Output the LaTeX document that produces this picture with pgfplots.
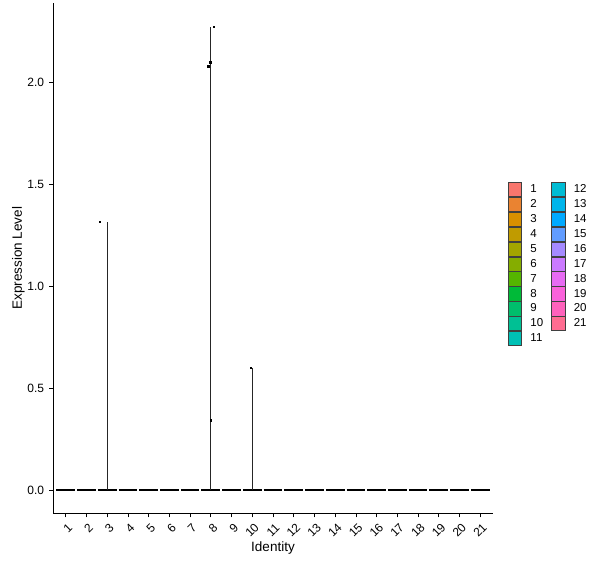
\documentclass[border=0pt]{standalone}
\usepackage{pgfplots}
\pgfplotsset{compat=1.18}
\usepackage{fontspec}
\setmainfont{Liberation Sans}
\definecolor{c1}{HTML}{F8766D}
\definecolor{c2}{HTML}{EA8331}
\definecolor{c3}{HTML}{D89000}
\definecolor{c4}{HTML}{C09B00}
\definecolor{c5}{HTML}{A3A500}
\definecolor{c6}{HTML}{85AD00}
\definecolor{c7}{HTML}{55B500}
\definecolor{c8}{HTML}{00BA38}
\definecolor{c9}{HTML}{00BE6C}
\definecolor{c10}{HTML}{00C094}
\definecolor{c11}{HTML}{00C0B5}
\definecolor{c12}{HTML}{00BCD4}
\definecolor{c13}{HTML}{00B5EB}
\definecolor{c14}{HTML}{00A9FF}
\definecolor{c15}{HTML}{619CFF}
\definecolor{c16}{HTML}{A58AFF}
\definecolor{c17}{HTML}{CB7AFF}
\definecolor{c18}{HTML}{E76BF3}
\definecolor{c19}{HTML}{FA62DB}
\definecolor{c20}{HTML}{FF62BC}
\definecolor{c21}{HTML}{FF6C91}
\begin{document}
\begin{tikzpicture}[x=1pt,y=1pt]
\path[use as bounding box] (0,0) rectangle (600,568);
\begin{axis}[
  at={(53.3pt,54.7pt)}, anchor=south west,
  scale only axis, width=439.4pt, height=510pt,
  xmin=0.4, xmax=21.6, ymin=-0.1138, ymax=2.389,
  axis x line*=bottom, axis y line*=left,
  axis line style={black, line width=0.8pt},
  tick style={black, line width=0.8pt},
  tick align=outside, major tick length=4pt,
  xtick={1,2,3,4,5,6,7,8,9,10,11,12,13,14,15,16,17,18,19,20,21},
  ytick={0,0.5,1,1.5,2},
  /pgf/number format/assume math mode=true,
  yticklabel={\pgfmathprintnumber[fixed,fixed zerofill,precision=1]{\tick}},
  xticklabel style={yshift=-5pt, xshift=1.5pt, rotate=45, anchor=north east, inner sep=0pt, font=\fontsize{12}{14}\selectfont},
  yticklabel style={inner sep=0pt, font=\fontsize{12}{14}\selectfont, xshift=-5pt},
  xlabel={Identity}, ylabel={Expression Level},
  every axis x label/.style={at={(axis description cs:0.5,0)}, anchor=center, yshift=-35.2pt, font=\fontsize{13.5}{15}\selectfont},
  every axis y label/.style={at={(axis description cs:0,0.5)}, xshift=-34.8pt, rotate=90, anchor=center, font=\fontsize{13.5}{15}\selectfont},
  legend columns=2,
  legend cell align=left,
  legend image code/.code={\draw[#1, draw=black!75, line width=0.6pt] (0pt,-7.15pt) rectangle (13.4pt,7.15pt);},
  legend style={at={(axis description cs:1.0348,0.6496)}, anchor=north west, draw=none, fill=none,
    inner sep=0pt, outer sep=0pt, row sep=0pt,
    nodes={inner sep=0pt, font=\fontsize{11.5}{13}\selectfont},
    /tikz/every odd column/.style={column sep=8.5pt},
    /tikz/every even column/.style={column sep=8pt}},
]
\addlegendimage{fill=c1}\addlegendentry{1}
\addlegendimage{fill=c12}\addlegendentry{12}
\addlegendimage{fill=c2}\addlegendentry{2}
\addlegendimage{fill=c13}\addlegendentry{13}
\addlegendimage{fill=c3}\addlegendentry{3}
\addlegendimage{fill=c14}\addlegendentry{14}
\addlegendimage{fill=c4}\addlegendentry{4}
\addlegendimage{fill=c15}\addlegendentry{15}
\addlegendimage{fill=c5}\addlegendentry{5}
\addlegendimage{fill=c16}\addlegendentry{16}
\addlegendimage{fill=c6}\addlegendentry{6}
\addlegendimage{fill=c17}\addlegendentry{17}
\addlegendimage{fill=c7}\addlegendentry{7}
\addlegendimage{fill=c18}\addlegendentry{18}
\addlegendimage{fill=c8}\addlegendentry{8}
\addlegendimage{fill=c19}\addlegendentry{19}
\addlegendimage{fill=c9}\addlegendentry{9}
\addlegendimage{fill=c20}\addlegendentry{20}
\addlegendimage{fill=c10}\addlegendentry{10}
\addlegendimage{fill=c21}\addlegendentry{21}
\addlegendimage{fill=c11}\addlegendentry{11}
% flat violins at zero
\addplot[black, line width=2pt, unbounded coords=jump, forget plot] table {
x y
0.55 0
1.45 0
nan nan
1.55 0
2.45 0
nan nan
2.55 0
3.45 0
nan nan
3.55 0
4.45 0
nan nan
4.55 0
5.45 0
nan nan
5.55 0
6.45 0
nan nan
6.55 0
7.45 0
nan nan
7.55 0
8.45 0
nan nan
8.55 0
9.45 0
nan nan
9.55 0
10.45 0
nan nan
10.55 0
11.45 0
nan nan
11.55 0
12.45 0
nan nan
12.55 0
13.45 0
nan nan
13.55 0
14.45 0
nan nan
14.55 0
15.45 0
nan nan
15.55 0
16.45 0
nan nan
16.55 0
17.45 0
nan nan
17.55 0
18.45 0
nan nan
18.55 0
19.45 0
nan nan
19.55 0
20.45 0
nan nan
20.55 0
21.45 0
};
% thin violin tails
\addplot[black!85, line width=0.75pt, forget plot] coordinates {(3,0) (3,1.318)};
\addplot[black!85, line width=0.75pt, forget plot] coordinates {(8,0) (8,2.275)};
\addplot[black!85, line width=0.75pt, forget plot] coordinates {(10,0) (10,0.597)};
% jittered points
\addplot[only marks, mark=square*, mark size=0.8pt, black, mark options={draw=none}, forget plot] coordinates {
(2.64,1.318) (8.14,2.275) (7.96,2.10) (7.87,2.08) (7.99,0.343) (9.92,0.600)};
\end{axis}
\end{tikzpicture}
\end{document}
